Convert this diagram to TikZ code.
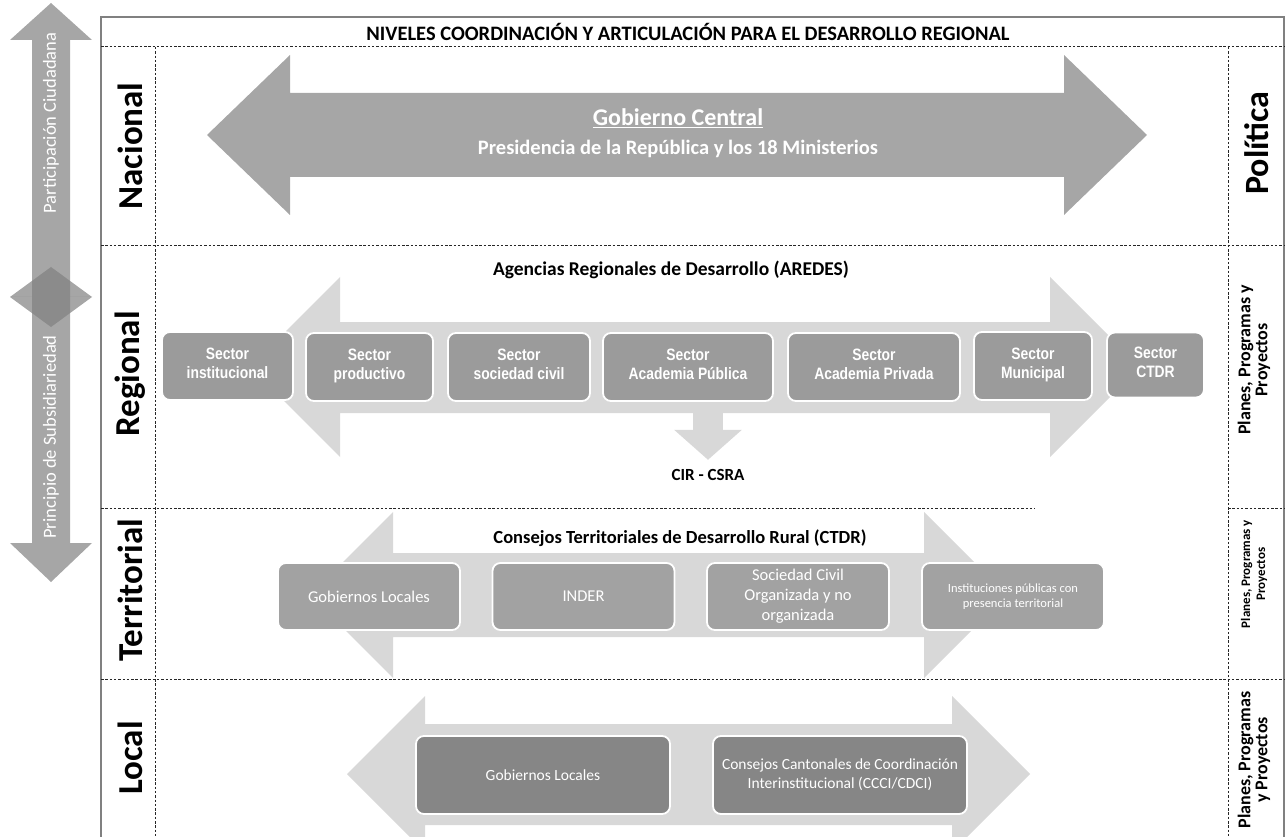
\documentclass[tikz,border=0pt]{standalone}
\usepackage{fontspec}
\setmainfont{Carlito}
\newfontfamily\narrowfont[FakeStretch=0.84]{Liberation Sans}
\usetikzlibrary{arrows.meta,backgrounds}

\definecolor{flechagris}{HTML}{A6A6A6}
\definecolor{flechaclara}{HTML}{D8D8D8}
\definecolor{cajareg}{HTML}{9B9B9B}
\definecolor{cajater}{HTML}{A2A2A2}
\definecolor{cajaloc}{HTML}{868686}
\definecolor{marcogris}{HTML}{808080}

\tikzset{
  divisor/.style={draw=black!85, line width=1pt, dash pattern=on 2.5pt off 1.8pt},
  marco/.style={draw=marcogris, line width=1.2pt},
  flechaizq/.style={fill=black!50, fill opacity=0.7},
  nivel/.style={rotate=90, font=\bfseries\fontsize{35}{38}\selectfont},
  ambito/.style={rotate=90, align=center, font=\bfseries\fontsize{18}{17}\selectfont},
  caja/.style={draw=white, line width=1.8pt, rounded corners=8pt, text=white, align=center, inner sep=2pt},
  sector/.style={caja, fill=cajareg, minimum height=68pt, font=\narrowfont\bfseries\fontsize{16.5}{19}\selectfont},
  terrbox/.style={caja, fill=cajater, minimum height=67pt, minimum width=182pt, font=\fontsize{16.5}{20}\selectfont},
  localbox/.style={caja, fill=cajaloc, minimum height=78pt, minimum width=254pt, font=\fontsize{15.5}{19}\selectfont},
  encabezado/.style={font=\bfseries\fontsize{19.5}{22}\selectfont},
}

\begin{document}
\begin{tikzpicture}[x=1pt, y=-1pt]
\useasboundingbox (0,0) rectangle (1286,837);

% flechas laterales
\fill[flechaizq] (51,3) -- (92,40) -- (70,40) -- (70,297) -- (92,297) -- (51,327) -- (10,297) -- (32,297) -- (32,40) -- (10,40) -- cycle;
\fill[flechaizq] (51,267) -- (92,297) -- (70,297) -- (70,543) -- (92,543) -- (51,582) -- (10,543) -- (32,543) -- (32,297) -- (10,297) -- cycle;
\node[rotate=90, text=white, font=\fontsize{18.5}{20}\selectfont] (participacion) at (51,123) {Participación Ciudadana};
\node[rotate=90, text=white, font=\fontsize{18.5}{20}\selectfont] (subsidiariedad) at (51,437) {Principio de Subsidiariedad};

% marco y divisiones
\draw[marco] (101,837) -- (101,17) -- (1284,17) -- (1284,837);
\node[font=\bfseries\fontsize{20.5}{23}\selectfont] (titulo) at (688,32) {NIVELES COORDINACIÓN Y ARTICULACIÓN PARA EL DESARROLLO REGIONAL};
\draw[divisor] (101,47) -- (1284,47);
\draw[divisor] (155,47) -- (155,837);
\draw[divisor] (1228,47) -- (1228,837);
\draw[divisor] (101,246) -- (1284,246);
\draw[divisor] (101,508) -- (1035,508);
\draw[divisor] (1228,508) -- (1284,508);
\draw[divisor] (101,679) -- (1284,679);

% niveles
\node[nivel] (nacional) at (130,146) {Nacional};
\node[nivel] (regional) at (130,374) {Regional};
\node[nivel] (territorial) at (130,590) {Territorial};
\node[nivel] (local) at (130,758) {Local};

\node[rotate=90, font=\bfseries\fontsize{34}{36}\selectfont] (politica) at (1257,143) {Política};
\node[ambito] (planreg) at (1254,360) {Planes, Programas y\\Proyectos};
\node[ambito, font=\bfseries\fontsize{13}{15}\selectfont] (planter) at (1254,574) {Planes, Programas y\\Proyectos};
\node[ambito] (planloc) at (1254,760) {Planes, Programas\\y Proyectos};

% nacional
\fill[flechagris] (207,135) -- (290,55) -- (290,93) -- (1064,93) -- (1064,55) -- (1147,135) -- (1064,215) -- (1064,177) -- (290,177) -- (290,215) -- cycle;
\node[text=white, font=\bfseries\fontsize{24}{26}\selectfont] (gobierno) at (678,118) {\underline{Gobierno Central}};
\node[text=white, font=\bfseries\fontsize{20.5}{23}\selectfont] (presidencia) at (678,149) {Presidencia de la República y los 18 Ministerios};

% regional
\node[encabezado] (aredes) at (671,270) {Agencias Regionales de Desarrollo (AREDES)};
\fill[flechaclara] (250,367) -- (340,277) -- (340,322) -- (1050,322) -- (1050,277) -- (1140,367) -- (1050,457) -- (1050,413) -- (340,413) -- (340,457) -- cycle;
\node[sector, minimum width=131pt] (institucional) at (227.5,366) {Sector\\institucional\strut};
\node[sector, minimum width=127pt] (productivo) at (369.5,367) {Sector\\productivo\strut};
\node[sector, minimum width=142pt] (civil) at (519,367) {Sector\\sociedad civil\strut};
\node[sector, minimum width=170pt] (acpublica) at (688,367) {Sector\\Academia Pública\strut};
\node[sector, minimum width=172pt] (acprivada) at (874,367) {Sector\\Academia Privada\strut};
\node[sector, minimum width=118pt] (municipal) at (1033,366) {Sector\\Municipal\strut};
\node[sector, minimum width=97pt, minimum height=65pt] (sectorctdr) at (1155.5,365) {Sector\\CTDR\strut};
\node[font=\bfseries\fontsize{17}{19}\selectfont] (cir) at (708,475) {CIR - CSRA};
\begin{scope}[on background layer]
\draw[flechaclara, line width=30pt, shorten >=6pt, -{Triangle[width=66pt,length=30pt]}] (cir.north |- acpublica.south) -- (cir.north);
\end{scope}

% territorial
\node[encabezado, font=\bfseries\fontsize{18.5}{21}\selectfont] (ctdrtit) at (680,538) {Consejos Territoriales de Desarrollo Rural (CTDR)};
\fill[flechaclara] (310,595) -- (393,512) -- (393,553) -- (924,553) -- (924,512) -- (1007,595) -- (924,678) -- (924,637) -- (393,637) -- (393,678) -- cycle;
\node[terrbox] (gobter) at (369,596.5) {Gobiernos Locales};
\node[terrbox] (inder) at (583.5,596.5) {INDER};
\node[terrbox] (sociedad) at (798,596.5) {Sociedad Civil\\Organizada y no\\organizada};
\node[terrbox, font=\fontsize{12.5}{15}\selectfont] (instpub) at (1013,596.5) {Instituciones públicas con\\presencia territorial};

% local
\fill[flechaclara] (347,774) -- (425,696) -- (425,724) -- (952,724) -- (952,696) -- (1030,774) -- (952,852) -- (952,825) -- (425,825) -- (425,852) -- cycle;
\node[localbox] (gobloc) at (543,775) {Gobiernos Locales};
\node[localbox] (cantonales) at (840,775) {Consejos Cantonales de Coordinación\\Interinstitucional (CCCI/CDCI)};

\end{tikzpicture}
\end{document}
